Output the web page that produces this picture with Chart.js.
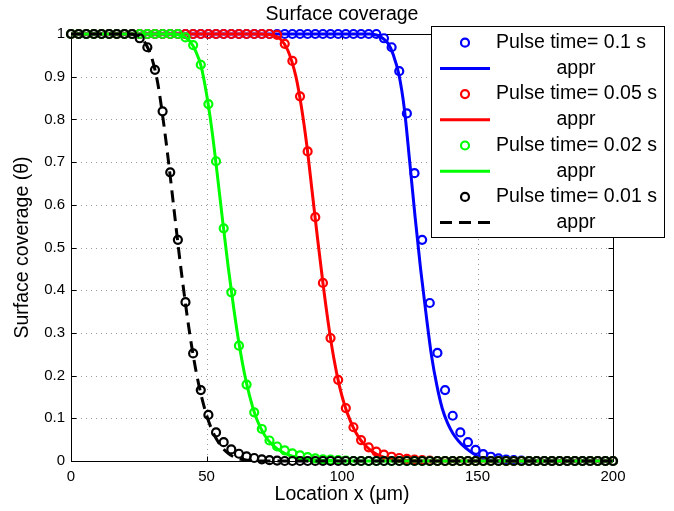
<!DOCTYPE html>
<html lang="en">
<head>
    <meta charset="UTF-8">
    <title>Surface coverage</title>
    <script src="https://cdn.jsdelivr.net/npm/chart.js"></script>
    <style>
        html, body { margin: 0; padding: 0; background: #fff; }
        canvas { display: block; }
    </style>
</head>
<body>
    <canvas id="myChart" width="674" height="511"></canvas>
    <script>

// marker locations (um)
const locs = [
    0, 2.82, 5.63, 8.45, 11.27, 14.08, 16.9, 19.72, 22.54, 25.35,
    28.17, 30.99, 33.8, 36.62, 39.44, 42.25, 45.07, 47.89, 50.7, 53.52,
    56.34, 59.15, 61.97, 64.79, 67.61, 70.42, 73.24, 76.06, 78.87, 81.69,
    84.51, 87.32, 90.14, 92.96, 95.77, 98.59, 101.41, 104.23, 107.04, 109.86,
    112.68, 115.49, 118.31, 121.13, 123.94, 126.76, 129.58, 132.39, 135.21, 138.03,
    140.85, 143.66, 146.48, 149.3, 152.11, 154.93, 157.75, 160.56, 163.38, 166.2,
    169.01, 171.83, 174.65, 177.46, 180.28, 183.1, 185.92, 188.73, 191.55, 194.37,
    197.18, 200
];

// simulated coverage at each location
const pulse01 = [
    1, 1, 1, 1, 1, 1, 1, 1, 1, 1,
    1, 1, 1, 1, 1, 1, 1, 1, 1, 1,
    1, 1, 1, 1, 1, 1, 1, 1, 1, 1,
    1, 1, 1, 1, 1, 1, 1, 1, 1, 1,
    1, 0.99, 0.969, 0.913, 0.814, 0.674, 0.518, 0.37, 0.253, 0.166,
    0.106, 0.067, 0.044, 0.026, 0.016, 0.01, 0.006, 0.003, 0.002, 0.001,
    0, 0, 0, 0, 0, 0, 0, 0, 0, 0,
    0, 0
];
const pulse005 = [
    1, 1, 1, 1, 1, 1, 1, 1, 1, 1,
    1, 1, 1, 1, 1, 1, 1, 1, 1, 1,
    1, 1, 1, 1, 1, 1, 1, 0.998, 0.977, 0.937,
    0.854, 0.725, 0.571, 0.417, 0.288, 0.19, 0.124, 0.079, 0.049, 0.032,
    0.022, 0.015, 0.01, 0.007, 0.005, 0.003, 0.002, 0.001, 0, 0,
    0, 0, 0, 0, 0, 0, 0, 0, 0, 0,
    0, 0, 0, 0, 0, 0, 0, 0, 0, 0,
    0, 0
];
const pulse002 = [
    1, 1, 1, 1, 1, 1, 1, 1, 1, 1,
    1, 1, 1, 1, 1, 0.992, 0.974, 0.928, 0.836, 0.702,
    0.545, 0.395, 0.27, 0.179, 0.114, 0.075, 0.048, 0.034, 0.025, 0.018,
    0.013, 0.009, 0.006, 0.004, 0.003, 0.002, 0.001, 0, 0, 0,
    0, 0, 0, 0, 0, 0, 0, 0, 0, 0,
    0, 0, 0, 0, 0, 0, 0, 0, 0, 0,
    0, 0, 0, 0, 0, 0, 0, 0, 0, 0,
    0, 0
];
const pulse001 = [
    1, 1, 1, 1, 1, 1, 1, 1, 1, 0.99,
    0.969, 0.916, 0.819, 0.676, 0.518, 0.372, 0.252, 0.166, 0.108, 0.067,
    0.044, 0.027, 0.017, 0.011, 0.007, 0.004, 0.002, 0.001, 0, 0,
    0, 0, 0, 0, 0, 0, 0, 0, 0, 0,
    0, 0, 0, 0, 0, 0, 0, 0, 0, 0,
    0, 0, 0, 0, 0, 0, 0, 0, 0, 0,
    0, 0, 0, 0, 0, 0, 0, 0, 0, 0,
    0, 0
];

// approximation curves
const apprX01 = [0, 110, 113, 115, 117, 119, 121, 123, 125, 127, 129, 131, 133, 135, 137, 139, 141, 143, 145, 147, 149, 151, 153, 156, 160, 200];
const apprY01 = [1, 1, 0.997, 0.99, 0.978, 0.95, 0.905, 0.825, 0.7, 0.57, 0.45, 0.345, 0.248, 0.177, 0.123, 0.088, 0.064, 0.047, 0.034, 0.024, 0.015, 0.008, 0.004, 0.001, 0, 0];

const apprX005 = [0, 70, 74, 77, 80, 83, 85, 87, 89, 91, 93, 95, 97, 99, 101, 103, 105, 107, 109, 111, 113, 116, 120, 125, 130, 200];
const apprY005 = [1, 1, 0.998, 0.99, 0.962, 0.9, 0.83, 0.74, 0.63, 0.52, 0.415, 0.32, 0.24, 0.177, 0.13, 0.095, 0.068, 0.048, 0.034, 0.023, 0.015, 0.008, 0.003, 0.001, 0, 0];

const apprX002 = [0, 38, 42, 44, 46, 48, 50, 52, 54, 56, 58, 60, 62, 64, 66, 68, 70, 72, 74, 76, 78, 80, 84, 88, 92, 96, 100, 200];
const apprY002 = [1, 1, 0.993, 0.982, 0.96, 0.925, 0.86, 0.775, 0.67, 0.56, 0.455, 0.36, 0.275, 0.205, 0.15, 0.107, 0.077, 0.055, 0.04, 0.029, 0.021, 0.015, 0.008, 0.004, 0.002, 0.001, 0, 0];

const apprX001 = [0, 20, 24, 26, 28, 30, 32, 34, 36, 38, 40, 42, 44, 46, 48, 50, 52, 54, 56, 58, 60, 62, 65, 70, 200];
const apprY001 = [1, 1, 0.998, 0.99, 0.972, 0.94, 0.885, 0.8, 0.7, 0.59, 0.48, 0.38, 0.29, 0.215, 0.155, 0.108, 0.073, 0.048, 0.03, 0.018, 0.01, 0.005, 0.002, 0, 0];

const xTicks = [0, 50, 100, 150, 200];
const yTicks = [0, 0.1, 0.2, 0.3, 0.4, 0.5, 0.6, 0.7, 0.8, 0.9, 1];

const FONT = '"Liberation Sans", Arial, sans-serif';
Chart.defaults.font.family = FONT;

function pts(xs, ys) {
    return xs.map((x, i) => ({ x: x, y: ys[i] }));
}

function markerSet(label, ys, color, order) {
    return {
        label: label,
        data: pts(locs, ys),
        showLine: false,
        borderColor: color,
        backgroundColor: 'rgba(0,0,0,0)',
        pointBackgroundColor: 'rgba(0,0,0,0)',
        pointBorderColor: color,
        pointRadius: 4,
        pointHoverRadius: 4,
        pointBorderWidth: 2.2,
        clip: false,
        order: order
    };
}

function lineSet(xs, ys, color, dash, order) {
    return {
        label: 'appr',
        data: pts(xs, ys),
        borderColor: color,
        borderWidth: 3,
        borderDash: dash,
        pointRadius: 0,
        cubicInterpolationMode: 'monotone',
        fill: false,
        clip: false,
        order: order
    };
}

const datasets = [
    markerSet('Pulse time= 0.1 s', pulse01, '#0000ff', 8),
    lineSet(apprX01, apprY01, '#0000ff', [], 7),
    markerSet('Pulse time= 0.05 s', pulse005, '#ff0000', 6),
    lineSet(apprX005, apprY005, '#ff0000', [], 5),
    markerSet('Pulse time= 0.02 s', pulse002, '#00ff00', 4),
    lineSet(apprX002, apprY002, '#00ff00', [], 3),
    markerSet('Pulse time= 0.01 s', pulse001, '#000000', 2),
    lineSet(apprX001, apprY001, '#000000', [12, 7], 1)
];

// matlab style box, dotted grid, inward ticks, titles and legend
const frame = {
    id: 'frame',
    beforeDatasetsDraw(chart) {
        const ctx = chart.ctx;
        const a = chart.chartArea;
        const sx = chart.scales.x, sy = chart.scales.y;
        ctx.save();
        ctx.lineWidth = 1;
        ctx.strokeStyle = '#9a9a9a';
        ctx.setLineDash([1, 4]);
        xTicks.forEach(v => {
            if (v <= sx.min || v >= sx.max) return;
            const px = Math.round(sx.getPixelForValue(v)) + 0.5;
            ctx.beginPath(); ctx.moveTo(px, a.top); ctx.lineTo(px, a.bottom); ctx.stroke();
        });
        yTicks.forEach(v => {
            if (v <= sy.min || v >= sy.max) return;
            const py = Math.round(sy.getPixelForValue(v)) + 0.5;
            ctx.beginPath(); ctx.moveTo(a.left, py); ctx.lineTo(a.right, py); ctx.stroke();
        });
        ctx.setLineDash([]);
        ctx.strokeStyle = '#000';
        const L = Math.round(a.left) + 0.5, R = Math.round(a.right) + 0.5;
        const T = Math.round(a.top) + 0.5, B = Math.round(a.bottom) + 0.5;
        ctx.strokeRect(L, T, R - L, B - T);
        const tl = 5;
        ctx.beginPath();
        xTicks.forEach(v => {
            const px = Math.round(sx.getPixelForValue(v)) + 0.5;
            ctx.moveTo(px, B); ctx.lineTo(px, B - tl);
            ctx.moveTo(px, T); ctx.lineTo(px, T + tl);
        });
        yTicks.forEach(v => {
            const py = Math.round(sy.getPixelForValue(v)) + 0.5;
            ctx.moveTo(L, py); ctx.lineTo(L + tl, py);
            ctx.moveTo(R, py); ctx.lineTo(R - tl, py);
        });
        ctx.stroke();
        ctx.restore();
    },
    afterDraw(chart) {
        const ctx = chart.ctx;
        const a = chart.chartArea;
        const cx = (a.left + a.right) / 2;
        ctx.save();
        ctx.fillStyle = '#000';
        ctx.font = '19.5px ' + FONT;
        ctx.textAlign = 'center';
        ctx.textBaseline = 'middle';
        ctx.fillText('Surface coverage', cx, 15);
        ctx.fillText('Location x (\u03bcm)', cx, 495);
        ctx.save();
        ctx.translate(23, (a.top + a.bottom) / 2);
        ctx.rotate(-Math.PI / 2);
        ctx.fillText('Surface coverage (\u03b8)', 0, 0);
        ctx.restore();

        // legend box
        const lx = 431.5, ly = 26.5, lw = 233, lh = 211;
        ctx.fillStyle = '#fff';
        ctx.fillRect(lx, ly, lw, lh);
        ctx.strokeStyle = '#000';
        ctx.lineWidth = 1;
        ctx.strokeRect(lx, ly, lw, lh);
        chart.data.datasets.forEach((ds, i) => {
            const ry = 42.7 + i * 25.7;
            ctx.strokeStyle = ds.borderColor;
            ctx.fillStyle = '#000';
            if (ds.showLine === false) {
                ctx.lineWidth = ds.pointBorderWidth;
                ctx.beginPath();
                ctx.arc(465, ry, ds.pointRadius, 0, Math.PI * 2);
                ctx.stroke();
                ctx.textAlign = 'left';
                ctx.fillText(ds.label, 496, ry);
            } else {
                ctx.lineWidth = ds.borderWidth;
                ctx.setLineDash(ds.borderDash || []);
                ctx.beginPath();
                ctx.moveTo(440, ry); ctx.lineTo(490, ry);
                ctx.stroke();
                ctx.setLineDash([]);
                ctx.textAlign = 'center';
                ctx.fillText(ds.label, 576, ry);
            }
        });
        ctx.restore();
    }
};

const ctx = document.getElementById('myChart').getContext('2d');
const myChart = new Chart(ctx, {
    type: 'line',
    data: { datasets: datasets },
    options: {
        responsive: false,
        animation: false,
        devicePixelRatio: 1,
        layout: { padding: { top: 34, right: 61, left: 0, bottom: 0 } },
        plugins: {
            legend: { display: false },
            tooltip: { enabled: false },
            title: { display: false }
        },
        scales: {
            x: {
                type: 'linear',
                min: 0,
                max: 200,
                afterBuildTicks: s => { s.ticks = xTicks.map(v => ({ value: v })); },
                ticks: { color: '#000', font: { size: 15 }, padding: 7, maxRotation: 0 },
                grid: { display: false, drawTicks: false },
                border: { display: false },
                afterFit: s => { s.height = 50; }
            },
            y: {
                type: 'linear',
                min: 0,
                max: 1,
                afterBuildTicks: s => { s.ticks = yTicks.map(v => ({ value: v })); },
                ticks: { color: '#000', font: { size: 15 }, padding: 6, callback: v => String(v) },
                grid: { display: false, drawTicks: false },
                border: { display: false },
                afterFit: s => { s.width = 71; }
            }
        }
    },
    plugins: [frame]
});

    </script>
</body>
</html>
